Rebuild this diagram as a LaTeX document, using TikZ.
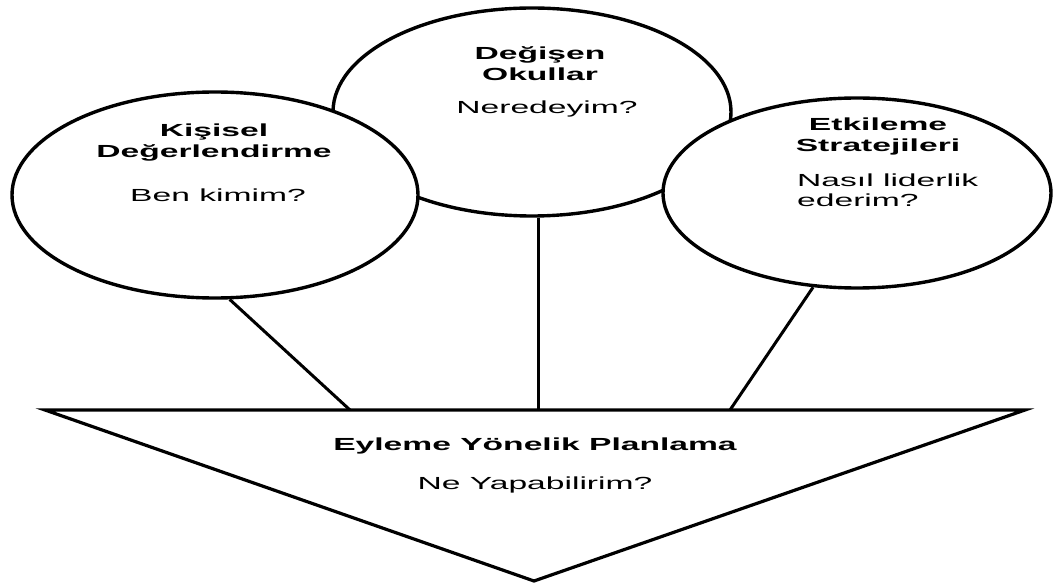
\documentclass[tikz,border=0pt]{standalone}
\usepackage{fontspec}
\setmainfont{Liberation Sans}[FakeStretch=1.92]
\usetikzlibrary{shapes.geometric}

\begin{document}
\begin{tikzpicture}[x=1pt,y=-1pt,
  blob/.style={draw,ellipse,line width=3.4pt,fill=white,inner sep=0pt},
  baslik/.style={font=\fontsize{17.5}{21}\selectfont\bfseries,align=center,anchor=base,inner sep=0pt},
  soru/.style={font=\fontsize{17.5}{20.5}\selectfont,anchor=base,inner sep=0pt}]
  \useasboundingbox (0,0) rectangle (1055,585);
  \node[blob,minimum width=398pt,minimum height=208pt] (okul) at (532,112) {};
  \node[blob,minimum width=406pt,minimum height=206pt] (kisi) at (215,195) {};
  \node[blob,minimum width=388pt,minimum height=190pt] (etki) at (857,193) {};
  \node[baslik] (okul-t) at (540,81) {Değişen\\Okullar};
  \node[soru] (okul-s) at (547,114) {Neredeyim?};
  \node[baslik] (kisi-t) at (214,158) {Kişisel\\Değerlendirme};
  \node[soru] (kisi-s) at (218,202) {Ben kimim?};
  \node[baslik] (etki-t) at (878,152) {Etkileme\\Stratejileri};
  \node[soru,align=left,anchor=base west] (etki-s) at (797,207) {Nasıl liderlik\\ederim?};
  \coordinate (sol) at (45,410);
  \coordinate (sag) at (1025,410);
  \coordinate (uc) at (534,581);
  \draw[line width=3.2pt] (sol) -- (sag) -- (uc) -- cycle;
  \node[baslik] (plan-t) at (535,450) {Eyleme Yönelik Planlama};
  \node[soru] (plan-s) at (535,489) {Ne Yapabilirim?};
  \coordinate (k1) at (350,410);
  \coordinate (k2) at (538,410);
  \coordinate (k3) at (730,410);
  \draw[line width=3pt] (kisi.-82) -- (k1);
  \draw[line width=3pt] (k2 |- okul.south) -- (k2);
  \draw[line width=3pt] (etki.-115) -- (k3);
\end{tikzpicture}
\end{document}
